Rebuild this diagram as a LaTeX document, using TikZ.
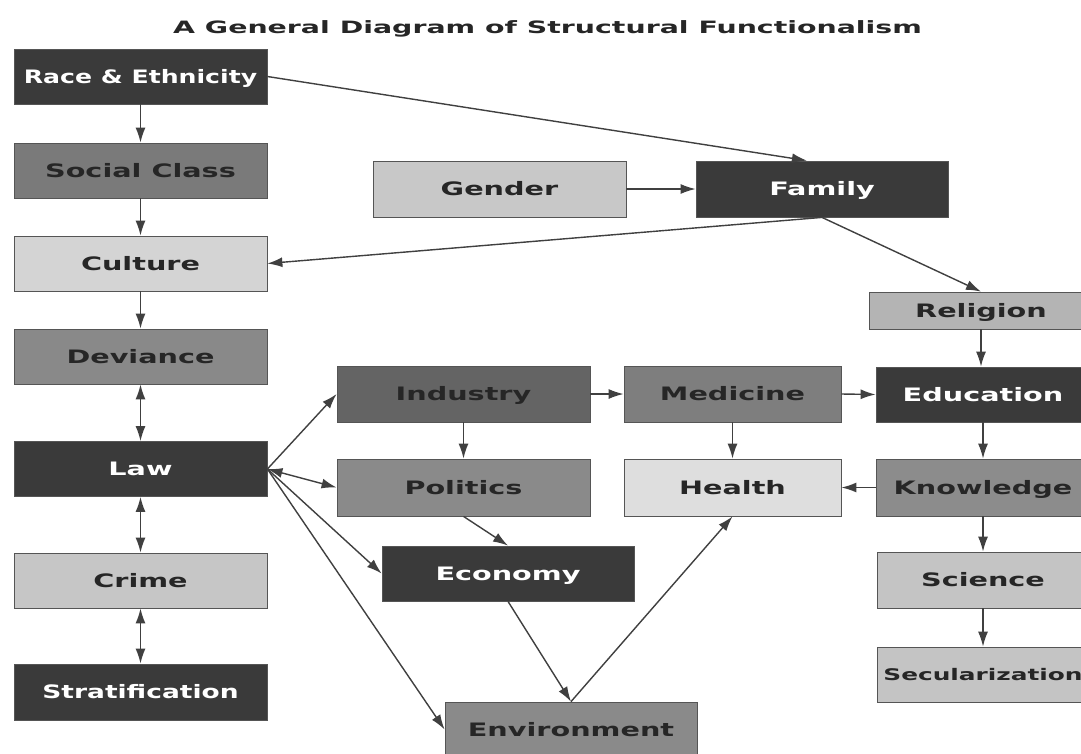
\documentclass[tikz,border=0pt]{standalone}
\usepackage{fontspec}
\newfontfamily\labfont{DejaVu Sans}[FakeStretch=1.55]
\newfontfamily\labfontrace{DejaVu Sans}[FakeStretch=1.36]
\newfontfamily\labfontstrat{DejaVu Sans}[FakeStretch=1.43]
\newfontfamily\titfont{DejaVu Sans}[FakeStretch=1.67]
\usetikzlibrary{arrows.meta}
\definecolor{cdark}{HTML}{3A3A3A}
\definecolor{cborder}{HTML}{555555}
\definecolor{ctext}{HTML}{262626}
\definecolor{cline}{HTML}{404040}
\definecolor{gSocial}{HTML}{7A7A7A}
\definecolor{gCulture}{HTML}{D4D4D4}
\definecolor{gDeviance}{HTML}{898989}
\definecolor{gCrime}{HTML}{C6C6C6}
\definecolor{gGender}{HTML}{C8C8C8}
\definecolor{gReligion}{HTML}{B4B4B4}
\definecolor{gIndustry}{HTML}{646464}
\definecolor{gMedicine}{HTML}{7E7E7E}
\definecolor{gPolitics}{HTML}{8A8A8A}
\definecolor{gHealth}{HTML}{DEDEDE}
\definecolor{gKnowledge}{HTML}{8C8C8C}
\definecolor{gScience}{HTML}{C4C4C4}
\definecolor{gEnv}{HTML}{8A8A8A}
\begin{document}
\begin{tikzpicture}[x=1pt,y=-1pt,
  box/.style={draw=cborder,line width=0.8pt,inner sep=0pt,
    minimum height=55pt,minimum width=253pt,
    font=\labfont\bfseries\fontsize{18.5}{20}\selectfont,
    text height=13.5pt,text depth=0pt,text=ctext},
  dk/.style={box,fill=cdark,text=white},
  tip/.tip={Latex[length=15pt,width=10pt]},
  conn/.style={draw=cline,line width=1.4pt,-tip},
  both/.style={draw=cline,line width=1.4pt,tip-tip}]
\useasboundingbox (0,0) rectangle (1081,753);
\fill[white] (0,0) rectangle (1081,753);

\node[anchor=base,font=\titfont\bfseries\fontsize{17}{19}\selectfont,text=ctext] (title) at (547.5,33) {A General Diagram of Structural Functionalism};

% left column
\node[dk,font=\labfontrace\bfseries\fontsize{18.5}{20}\selectfont] (race) at (140.5,76.5) {Race \& Ethnicity};
\node[box,fill=gSocial] (social) at (140.5,170.5) {Social Class};
\node[box,fill=gCulture] (culture) at (140.5,263.5) {Culture};
\node[box,fill=gDeviance] (deviance) at (140.5,356.5) {Deviance};
\node[dk] (law) at (140.5,469) {Law};
\node[box,fill=gCrime] (crime) at (140.5,580.5) {Crime};
\node[dk,minimum height=56pt,font=\labfontstrat\bfseries\fontsize{18.5}{20}\selectfont] (strat) at (140.5,692) {Stratification};

% top middle
\node[box,fill=gGender,minimum height=56pt] (gender) at (499.5,189) {Gender};
\node[dk,minimum width=252pt,minimum height=56pt] (family) at (822,189) {Family};

% right column
\node[box,fill=gReligion,minimum width=224pt,minimum height=37pt] (religion) at (981,310.5) {Religion};
\node[dk,minimum width=214pt] (education) at (983,394.5) {Education};
\node[box,fill=gKnowledge,minimum width=214pt,minimum height=57pt] (knowledge) at (983,487.5) {Knowledge};
\node[box,fill=gScience,minimum width=212pt,minimum height=56pt] (science) at (983,580) {Science};
\node[box,fill=gScience,minimum width=212pt,minimum height=55pt,font=\labfont\bfseries\fontsize{16}{18}\selectfont,text height=12pt] (secular) at (983,674.5) {Secularization};

% middle
\node[box,fill=gIndustry,minimum height=56pt] (industry) at (463.5,394) {Industry};
\node[box,fill=gMedicine,minimum width=217pt,minimum height=56pt] (medicine) at (732.5,394) {Medicine};
\node[box,fill=gPolitics,minimum height=57pt] (politics) at (463.5,487.5) {Politics};
\node[box,fill=gHealth,minimum width=217pt,minimum height=57pt] (health) at (732.5,487.5) {Health};
\node[dk,minimum width=252pt] (economy) at (508,573.5) {Economy};
\node[box,fill=gEnv,minimum width=252pt] (environment) at (571,729.5) {Environment};

% connectors
\draw[conn] (race.east) -- (family.118);
\draw[conn] (race.south) -- (social.north);
\draw[conn] (social.south) -- (culture.north);
\draw[conn] (culture.south) -- (deviance.north);
\draw[both] (deviance.south) -- (law.north);
\draw[both] (law.south) -- (crime.north);
\draw[both] (crime.south) -- (strat.north);
\draw[conn] (gender.east) -- (family.west);
\draw[conn] (family.south) -- (culture.east);
\draw[conn] (family.south) -- (religion.north);
\draw[conn] (religion.south) -- (religion.south |- education.north);
\draw[conn] (education.south) -- (knowledge.north);
\draw[conn] (knowledge.south) -- (science.north);
\draw[conn] (science.south) -- (secular.north);
\draw[conn] (law.east) -- (industry.west);
\draw[both] (law.east) -- (politics.west);
\draw[conn] (law.east) -- (economy.west);
\draw[conn] (law.east) -- (environment.west);
\draw[conn] (industry.south) -- (politics.north);
\draw[conn] (industry.east) -- (medicine.west);
\draw[conn] (medicine.east) -- (education.west);
\draw[conn] (medicine.south) -- (health.north);
\draw[conn] (knowledge.west) -- (health.east);
\draw[conn] (politics.south) -- (economy.north);
\draw[conn] (economy.south) -- (environment.north);
\draw[conn] (environment.north) -- (health.south);
\end{tikzpicture}
\end{document}
